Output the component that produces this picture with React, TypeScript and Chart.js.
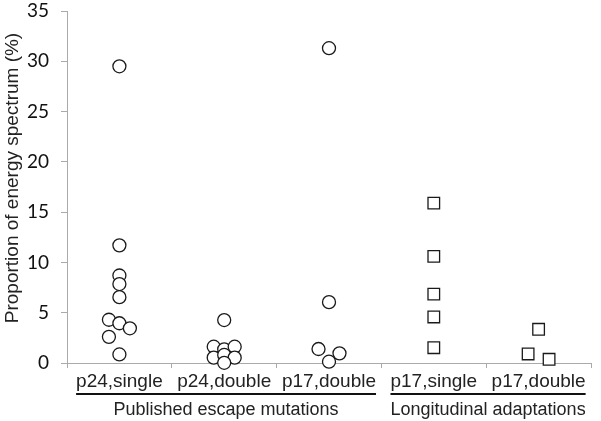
import React, { useEffect, useRef } from "react";
import { Chart, registerables } from "chart.js";

Chart.register(...registerables);

const categories = ["p24,single", "p24,double", "p17,double", "p17,single", "p17,double"];
const groups = [
  { label: "Published escape mutations", from: 0, to: 2 },
  { label: "Longitudinal adaptations", from: 3, to: 4 },
];
const yTicks = [0, 5, 10, 15, 20, 25, 30, 35];
const yTitle = "Proportion of energy spectrum (%)";

// values (%) and horizontal jitter (fraction of a category) per category
const p24SingleValues = [29.5, 11.7, 8.7, 7.85, 6.55, 4.3, 3.95, 3.45, 2.6, 0.85];
const p24SingleJitter = [0, 0, 0, 0, 0, -0.1, 0, 0.1, -0.1, 0];
const p24DoubleValues = [4.27, 1.62, 1.36, 1.62, 0.53, 0.8, 0.53, 0.02];
const p24DoubleJitter = [0, -0.1, 0, 0.1, -0.1, 0, 0.1, 0];
const p17DoubleValues = [31.3, 6.05, 1.39, 0.96, 0.13];
const p17DoubleJitter = [0, 0, -0.1, 0.1, 0];
const p17SingleLongValues = [15.9, 10.6, 6.85, 4.58, 1.52];
const p17SingleLongJitter = [0, 0, 0, 0, 0];
const p17DoubleLongValues = [3.35, 0.9, 0.37];
const p17DoubleLongJitter = [0, -0.1, 0.1];

const toPoints = (cat: number, vals: number[], jit: number[]) =>
  vals.map((v, i) => ({ x: cat + jit[i], y: v }));

const TEXT_FONT = "'Liberation Sans', Arial, sans-serif";
const XLABEL_SIZE = 19;

export default function App() {
  const ref = useRef<HTMLCanvasElement>(null);

  useEffect(() => {
    if (!ref.current) return;
    const circleStyle = {
      pointStyle: "circle" as const,
      pointRadius: 6.5,
      pointBorderWidth: 1.3,
      pointBorderColor: "#1a1a1a",
      pointBackgroundColor: "rgba(255,255,255,1)",
      showLine: false,
      clip: false as any,
    };
    const squareStyle = {
      pointStyle: "rect" as const,
      pointRadius: 8.2,
      pointBorderWidth: 1.3,
      pointBorderColor: "#1a1a1a",
      pointBackgroundColor: "rgba(255,255,255,1)",
      showLine: false,
      clip: false as any,
    };

    const groupPlugin = {
      id: "groupLabels",
      afterDraw(chart: any) {
        const ctx = chart.ctx;
        const xs = chart.scales.x;
        const base = xs.top;
        ctx.save();
        groups.forEach((g) => {
          ctx.font = `${XLABEL_SIZE}px ${TEXT_FONT}`;
          const left = xs.getPixelForValue(g.from) - ctx.measureText(categories[g.from]).width / 2;
          const right = xs.getPixelForValue(g.to) + ctx.measureText(categories[g.to]).width / 2;
          ctx.strokeStyle = "#111";
          ctx.lineWidth = 2;
          ctx.beginPath();
          ctx.moveTo(left, base + 31);
          ctx.lineTo(right, base + 31);
          ctx.stroke();
          ctx.font = `18px ${TEXT_FONT}`;
          ctx.fillStyle = "#222";
          ctx.textAlign = "center";
          ctx.textBaseline = "middle";
          ctx.fillText(g.label, (left + right) / 2, base + 47);
        });
        // y-axis title
        const ca = chart.chartArea;
        ctx.translate(13, (ca.top + ca.bottom) / 2 - 9);
        ctx.rotate(-Math.PI / 2);
        ctx.font = `19px ${TEXT_FONT}`;
        ctx.fillStyle = "#222";
        ctx.textAlign = "center";
        ctx.textBaseline = "middle";
        ctx.fillText(yTitle, 0, 0);
        ctx.restore();
      },
    };

    const chart = new Chart(ref.current, {
      type: "scatter",
      data: {
        datasets: [
          { data: toPoints(0, p24SingleValues, p24SingleJitter), ...circleStyle },
          { data: toPoints(1, p24DoubleValues, p24DoubleJitter), ...circleStyle },
          { data: toPoints(2, p17DoubleValues, p17DoubleJitter), ...circleStyle },
          { data: toPoints(3, p17SingleLongValues, p17SingleLongJitter), ...squareStyle },
          { data: toPoints(4, p17DoubleLongValues, p17DoubleLongJitter), ...squareStyle },
        ] as any,
      },
      options: {
        animation: false,
        responsive: false,
        layout: { padding: { left: 0, top: 11, right: 10, bottom: 0 } },
        plugins: { legend: { display: false }, tooltip: { enabled: false } },
        scales: {
          x: {
            type: "linear",
            min: -0.5,
            max: categories.length - 0.5,
            afterBuildTicks: (scale: any) => {
              const t: any[] = [];
              for (let i = 0; i <= categories.length * 2; i++) t.push({ value: -0.5 + i * 0.5 });
              scale.ticks = t;
            },
            afterFit: (scale: any) => {
              scale.height = 58;
              scale.paddingLeft = 0;
              scale.paddingRight = 0;
            },
            border: { color: "#aaa", width: 1 },
            grid: {
              drawOnChartArea: false,
              tickLength: 5,
              tickColor: (ctx: any) =>
                ctx.tick && Number.isInteger(ctx.tick.value) ? "rgba(0,0,0,0)" : "#aaa",
            },
            ticks: {
              autoSkip: false,
              maxRotation: 0,
              padding: 2,
              color: "#222",
              font: { family: TEXT_FONT, size: XLABEL_SIZE },
              callback: (v: any) => (Number.isInteger(v) ? categories[v] : ""),
            },
          },
          y: {
            min: 0,
            max: 35,
            afterBuildTicks: (scale: any) => {
              scale.ticks = yTicks.map((v) => ({ value: v }));
            },
            afterFit: (scale: any) => {
              scale.width = 67;
              scale.paddingTop = 0;
              scale.paddingBottom = 0;
            },
            border: { color: "#aaa", width: 1 },
            grid: { drawOnChartArea: false, tickLength: 6, tickColor: "#aaa" },
            ticks: {
              padding: 12,
              color: "#111",
              font: { family: "Lato, 'Open Sans', sans-serif", size: 19 },
            },
          },
        },
      } as any,
      plugins: [groupPlugin],
    });
    return () => chart.destroy();
  }, []);

  return (
    <div style={{ position: "fixed", left: 0, top: 0, width: 601, height: 421, background: "#fff" }}>
      <canvas ref={ref} width={601} height={421} />
    </div>
  );
}
